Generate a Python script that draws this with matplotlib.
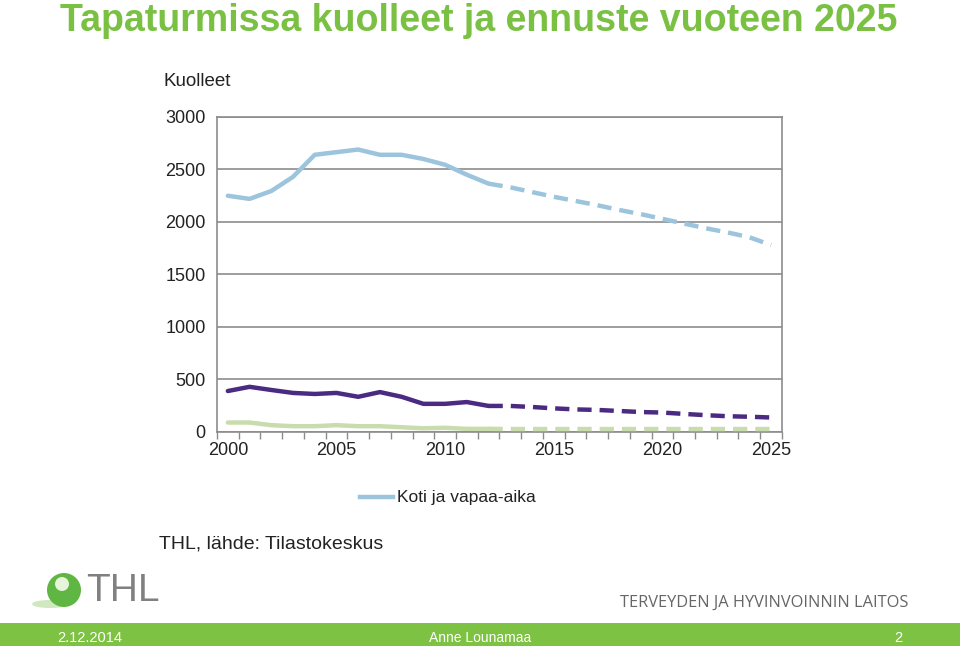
import matplotlib.pyplot as plt
import numpy as np
from matplotlib.patches import Rectangle, Ellipse

# data
years = np.arange(2000, 2026)
last_obs = 2012  # last observed year, after that the forecast (dashed)

koti = [2250, 2220, 2295, 2430, 2640, 2665, 2690, 2640, 2640, 2600, 2545, 2450, 2365,
        2330, 2285, 2240, 2200, 2160, 2115, 2075, 2030, 1985, 1940, 1900, 1855, 1780]
muu = [390, 430, 400, 372, 362, 372, 335, 380, 335, 268, 268, 285, 248,
       248, 238, 225, 215, 210, 200, 190, 185, 172, 160, 150, 145, 138]
liikenne = [90, 90, 65, 55, 55, 65, 55, 55, 45, 35, 40, 30, 30,
            28, 28, 28, 28, 28, 28, 28, 28, 28, 28, 28, 28, 28]

yticks = [0, 500, 1000, 1500, 2000, 2500, 3000]
xlabels = ['2000', '2005', '2010', '2015', '2020', '2025']

green = '#7ac143'
font = 'Liberation Sans'
W, H = 960, 646

fig = plt.figure(figsize=(9.6, 6.46), dpi=100)

# title
fig.text(0.063, 0.968, 'Tapaturmissa kuolleet ja ennuste vuoteen 2025', color=green,
         fontsize=27, fontweight='bold', family=font, ha='left', va='center')

ax = fig.add_axes([0.226, 0.3313, 0.5885, 0.4876])

x = np.arange(len(years))
n = last_obs - 2000 + 1
series = [(koti, '#9cc4dd'), (muu, '#4b2a82'), (liikenne, '#c9dcae')]
for vals, col in series:
    vals = np.array(vals)
    ax.plot(x[:n], vals[:n], color=col, lw=3.2, solid_capstyle='round', zorder=3)
    ax.plot(x[n - 1:], vals[n - 1:], color=col, lw=3.2, ls=(0, (3.2, 1.8)), zorder=3)

ax.set_xlim(-0.5, len(years) - 0.5)
ax.set_ylim(0, 3000)
ax.set_yticks(yticks)
ax.set_yticklabels([str(t) for t in yticks])
ax.grid(axis='y', color='#8c8c8c', lw=1.2)
ax.set_axisbelow(True)
for s in ax.spines.values():
    s.set_color('#8c8c8c')
    s.set_linewidth(1.2)

# ticks between categories, labels on every 5th year
ax.set_xticks(np.arange(-0.5, len(years) + 0.5, 1))
ax.set_xticklabels([])
ax.set_xticks(x[::5], minor=True)
ax.set_xticklabels(xlabels, minor=True)
ax.tick_params(axis='x', which='major', length=5, color='#8c8c8c', width=1)
ax.tick_params(axis='x', which='minor', length=0, pad=7)
ax.tick_params(axis='y', length=0, pad=8)
for lab in ax.get_xticklabels(minor=True) + ax.get_yticklabels():
    lab.set_family(font)
    lab.set_fontsize(13)
    lab.set_color('#222222')

fig.text(0.170, 0.874, 'Kuolleet', family=font, fontsize=13.5, color='#222222', va='center')

# legend
fig.add_artist(plt.Line2D([0.375, 0.409], [0.2305, 0.2305], color='#9cc4dd', lw=3.2))
fig.text(0.414, 0.2305, 'Koti ja vapaa-aika', family=font, fontsize=12.5, color='#222222',
         va='center')

fig.text(0.166, 0.158, 'THL, lähde: Tilastokeskus', family=font, fontsize=14,
         color='#222222', va='center')

# logo: green sphere with a soft shadow, gray THL
fig.add_artist(Ellipse((50 / W, 1 - 604 / H), 36 / W, 8 / H, transform=fig.transFigure,
                       color='#cfe8bf', ec='none'))
fig.add_artist(Ellipse((64 / W, 1 - 590 / H), 34 / W, 34 / H, transform=fig.transFigure,
                       color='#5fb642', ec='none'))
fig.add_artist(Ellipse((62 / W, 1 - 584 / H), 14 / W, 14 / H, transform=fig.transFigure,
                       color='#e6f4da', ec='none'))
fig.text(86 / W, 1 - 591 / H, 'THL', family=font, fontsize=28, color='#808080', va='center')
fig.text(908 / W, 1 - 603 / H, 'TERVEYDEN JA HYVINVOINNIN LAITOS', family='Open Sans',
         fontsize=11.8, color='#666666', ha='right', va='center')

# footer band
fig.add_artist(Rectangle((0, 0), 1, 23 / H, transform=fig.transFigure,
                         color='#7dc242', ec='none'))
fy = 1 - 638 / H
fig.text(57 / W, fy, '2.12.2014', family=font, fontsize=10.5, color='white', va='center')
fig.text(480 / W, fy, 'Anne Lounamaa', family=font, fontsize=10, color='white',
         ha='center', va='center')
fig.text(898 / W, fy, '2', family=font, fontsize=10.5, color='white', ha='center',
         va='center')

fig.savefig('out.png', dpi=100)
